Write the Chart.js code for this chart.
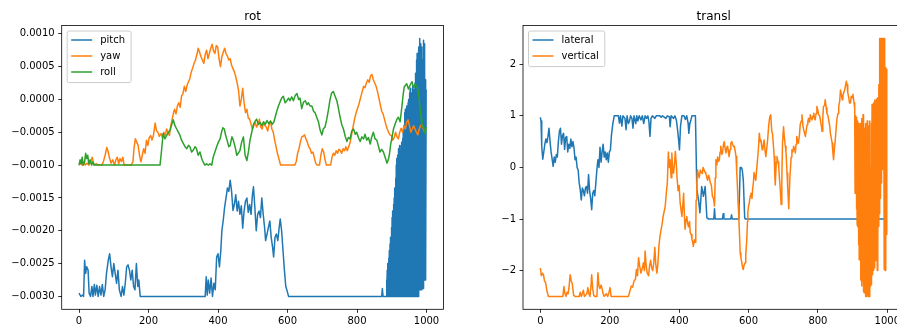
<!DOCTYPE html>
<html>
<head>
<meta charset="utf-8">
<script src="https://cdn.jsdelivr.net/npm/chart.js@4.4.1/dist/chart.umd.min.js"></script>
<style>
  html, body { margin: 0; padding: 0; background: #fff; overflow: hidden; width: 897px; height: 333px; }
  canvas { position: absolute; top: 0; }
  #rot { left: 0; }
  #transl { left: 460px; }
</style>
</head>
<body>
<canvas id="rot" width="450" height="333"></canvas>
<canvas id="transl" width="450" height="333"></canvas>
<script>
// ---- axis ticks ----
const xTicks = [0, 200, 400, 600, 800, 1000];
const xTickLabels = ['0', '200', '400', '600', '800', '1000'];
const rotYTicks = [-0.003, -0.0025, -0.002, -0.0015, -0.001, -0.0005, 0, 0.0005, 0.001];
const rotYTickLabels = ['\u22120.0030', '\u22120.0025', '\u22120.0020', '\u22120.0015', '\u22120.0010', '\u22120.0005', '0.0000', '0.0005', '0.0010'];
const translYTicks = [-2, -1, 0, 1, 2];
const translYTickLabels = ['\u22122', '\u22121', '0', '1', '2'];

// ---- rot: [step, value] ----
const pitch = [
  [0,-2.95e-3],[5,-3.0e-3],[10,-2.98e-3],[13,-3.0e-3],[16,-2.45e-3],[19,-2.65e-3],[22,-2.55e-3],[26,-2.6e-3],
  [29,-2.95e-3],[33,-3.0e-3],[37,-2.85e-3],[40,-3.0e-3],[44,-2.82e-3],[47,-2.98e-3],[51,-2.83e-3],[55,-3.0e-3],
  [59,-2.85e-3],[63,-2.98e-3],[67,-2.82e-3],[71,-3.0e-3],[75,-2.9e-3],[79,-2.65e-3],[84,-2.45e-3],[88,-2.35e-3],
  [92,-2.55e-3],[96,-2.7e-3],[100,-2.5e-3],[104,-2.65e-3],[108,-2.8e-3],[112,-2.6e-3],[116,-2.9e-3],[121,-3.0e-3],
  [125,-2.85e-3],[129,-2.98e-3],[133,-2.8e-3],[137,-2.55e-3],[141,-2.52e-3],[145,-2.6e-3],[149,-2.75e-3],[153,-2.6e-3],
  [157,-2.85e-3],[161,-2.9e-3],[165,-2.5e-3],[169,-2.85e-3],[172,-2.75e-3],[176,-3.0e-3],[363,-3.0e-3],[366,-2.7e-3],
  [369,-2.98e-3],[372,-2.75e-3],[376,-2.95e-3],[380,-2.72e-3],[384,-3.0e-3],[388,-2.8e-3],[392,-2.9e-3],[396,-2.4e-3],
  [400,-2.35e-3],[404,-2.55e-3],[408,-2.3e-3],[411,-2.0e-3],[415,-1.84e-3],[419,-1.64e-3],[423,-1.5e-3],[427,-1.35e-3],
  [431,-1.4e-3],[435,-1.23e-3],[439,-1.4e-3],[443,-1.69e-3],[447,-1.6e-3],[451,-1.45e-3],[455,-1.7e-3],[459,-1.55e-3],
  [463,-1.75e-3],[467,-1.62e-3],[471,-1.96e-3],[475,-1.7e-3],[479,-1.55e-3],[483,-1.5e-3],[487,-1.72e-3],[491,-1.6e-3],
  [495,-1.75e-3],[499,-1.45e-3],[502,-1.33e-3],[506,-1.65e-3],[510,-2.0e-3],[514,-1.75e-3],[518,-1.7e-3],[522,-1.8e-3],
  [526,-1.5e-3],[530,-1.75e-3],[534,-1.95e-3],[537,-2.15e-3],[541,-2.05e-3],[545,-1.95e-3],[549,-1.85e-3],[553,-2.1e-3],
  [557,-2.25e-3],[560,-2.4e-3],[564,-2.1e-3],[568,-2.05e-3],[572,-2.15e-3],[576,-1.95e-3],[579,-1.82e-3],[583,-2.0e-3],
  [587,-2.3e-3],[591,-2.6e-3],[595,-2.85e-3],[598,-2.9e-3],[603,-3.0e-3],[871,-3.0e-3],[873,-2.88e-3],[875,-3.0e-3],
  [884,-3.0e-3],[885,-2.75e-3],[886,-3.0e-3],[887,-2.6e-3],[888,-3.0e-3],[889,-2.5e-3],[890,-3.0e-3],[891,-2.42e-3],
  [892,-3.0e-3],[893,-2.3e-3],[894,-3.0e-3],[895,-2.2e-3],[896,-3.0e-3],[897,-2.1e-3],[898,-3.0e-3],[899,-1.95e-3],
  [900,-3.0e-3],[901,-1.8e-3],[902,-3.0e-3],[903,-1.7e-3],[904,-3.0e-3],[905,-1.6e-3],[906,-3.0e-3],[907,-1.5e-3],
  [908,-3.0e-3],[909,-1.35e-3],[910,-3.0e-3],[911,-1.2e-3],[912,-3.0e-3],[913,-1.0e-3],[914,-3.0e-3],[915,-0.9e-3],
  [916,-3.0e-3],[917,-0.85e-3],[918,-3.0e-3],[919,-0.75e-3],[920,-3.0e-3],[921,-0.85e-3],[922,-3.0e-3],[923,-0.7e-3],
  [924,-3.0e-3],[925,-0.8e-3],[926,-3.0e-3],[927,-0.7e-3],[928,-3.0e-3],[929,-0.65e-3],[930,-3.0e-3],[931,-0.6e-3],
  [932,-3.0e-3],[933,-0.5e-3],[934,-3.0e-3],[935,-0.4e-3],[936,-3.0e-3],[937,-0.2e-3],[938,-3.0e-3],[939,-0.15e-3],
  [940,-3.0e-3],[941,-0.3e-3],[942,-3.0e-3],[943,-0.1e-3],[944,-3.0e-3],[945,-0.2e-3],[946,-3.0e-3],[947,-0.05e-3],
  [948,-3.0e-3],[949,0.0],[950,-3.0e-3],[951,0.1e-3],[952,-3.0e-3],[953,0.17e-3],[954,-3.0e-3],[955,0.0],
  [956,-3.0e-3],[957,0.1e-3],[958,-3.0e-3],[959,0.05e-3],[960,-3.0e-3],[961,0.2e-3],[962,-3.0e-3],[963,0.15e-3],
  [964,-3.0e-3],[965,0.05e-3],[966,-3.0e-3],[967,0.25e-3],[968,-3.0e-3],[969,0.4e-3],[970,-3.0e-3],[971,0.6e-3],
  [972,-3.0e-3],[973,0.7e-3],[974,-3.0e-3],[975,0.6e-3],[976,-3.0e-3],[977,0.8e-3],[978,-3.0e-3],[979,0.75e-3],
  [980,-2.9e-3],[981,0.93e-3],[982,-2.9e-3],[983,0.85e-3],[984,-2.9e-3],[985,0.7e-3],[986,-2.9e-3],[987,0.8e-3],
  [988,-2.88e-3],[989,0.6e-3],[990,-2.88e-3],[991,0.9e-3],[992,-2.8e-3],[993,0.85e-3],[994,-2.75e-3],[995,0.6e-3],
  [996,-2.75e-3],[997,0.3e-3],[998,-2.7e-3],[999,0.15e-3]
];

const yaw = [
  [0,-1.0e-3],[5,-0.97e-3],[9,-1.0e-3],[14,-0.95e-3],[18,-1.0e-3],[23,-0.97e-3],[28,-1.0e-3],[33,-0.96e-3],
  [38,-0.88e-3],[42,-1.0e-3],[50,-0.98e-3],[55,-1.0e-3],[65,-1.0e-3],[70,-0.95e-3],[75,-0.85e-3],[80,-0.73e-3],
  [84,-0.8e-3],[88,-0.9e-3],[92,-0.97e-3],[97,-0.92e-3],[102,-1.0e-3],[106,-0.92e-3],[110,-0.88e-3],[114,-0.98e-3],
  [118,-0.9e-3],[122,-0.95e-3],[126,-0.88e-3],[130,-1.0e-3],[150,-1.0e-3],[155,-0.95e-3],[158,-0.75e-3],[162,-0.6e-3],
  [166,-0.65e-3],[170,-0.7e-3],[174,-0.85e-3],[178,-0.95e-3],[182,-0.85e-3],[186,-0.75e-3],[190,-0.82e-3],[194,-0.62e-3],
  [198,-0.7e-3],[202,-0.58e-3],[206,-0.55e-3],[210,-0.62e-3],[214,-0.55e-3],[219,-0.36e-3],[223,-0.48e-3],[227,-0.5e-3],
  [231,-0.56e-3],[236,-0.52e-3],[240,-0.58e-3],[244,-0.5e-3],[248,-0.55e-3],[252,-0.45e-3],[256,-0.5e-3],[260,-0.55e-3],
  [264,-0.4e-3],[268,-0.3e-3],[272,-0.2e-3],[275,-0.15e-3],[279,-0.22e-3],[283,-0.1e-3],[287,-0.05e-3],[291,-0.12e-3],
  [295,0.05e-3],[299,0.09e-3],[303,0.2e-3],[307,0.12e-3],[311,0.22e-3],[315,0.27e-3],[319,0.32e-3],[323,0.42e-3],
  [327,0.48e-3],[331,0.55e-3],[335,0.6e-3],[339,0.68e-3],[343,0.78e-3],[347,0.72e-3],[351,0.65e-3],[355,0.6e-3],
  [359,0.55e-3],[363,0.68e-3],[367,0.75e-3],[371,0.62e-3],[375,0.7e-3],[379,0.78e-3],[383,0.84e-3],[387,0.74e-3],
  [391,0.7e-3],[395,0.82e-3],[399,0.8e-3],[403,0.62e-3],[407,0.5e-3],[411,0.65e-3],[415,0.72e-3],[419,0.78e-3],
  [423,0.7e-3],[427,0.66e-3],[431,0.6e-3],[435,0.62e-3],[439,0.52e-3],[443,0.47e-3],[447,0.42e-3],[451,0.35e-3],
  [455,0.25e-3],[459,0.14e-3],[463,-0.1e-3],[467,0.0],[471,0.17e-3],[475,-0.05e-3],[479,-0.2e-3],[483,-0.15e-3],
  [487,-0.28e-3],[491,-0.3e-3],[495,-0.38e-3],[499,-0.45e-3],[503,-0.4e-3],[507,-0.35e-3],[511,-0.42e-3],[515,-0.38e-3],
  [519,-0.3e-3],[523,-0.42e-3],[527,-0.45e-3],[531,-0.35e-3],[535,-0.4e-3],[539,-0.42e-3],[543,-0.48e-3],[547,-0.38e-3],
  [551,-0.33e-3],[555,-0.45e-3],[559,-0.5e-3],[563,-0.62e-3],[567,-0.72e-3],[571,-0.82e-3],[575,-0.9e-3],[580,-1.0e-3],
  [621,-1.0e-3],[625,-0.95e-3],[629,-0.82e-3],[633,-0.75e-3],[637,-0.65e-3],[641,-0.57e-3],[645,-0.56e-3],[649,-0.54e-3],
  [653,-0.6e-3],[657,-0.65e-3],[661,-0.72e-3],[665,-0.75e-3],[669,-0.82e-3],[673,-0.8e-3],[677,-0.88e-3],[681,-0.97e-3],
  [685,-1.0e-3],[692,-1.0e-3],[696,-0.85e-3],[700,-0.75e-3],[704,-0.8e-3],[708,-0.92e-3],[712,-1.0e-3],[724,-1.0e-3],
  [728,-0.88e-3],[732,-0.82e-3],[736,-0.85e-3],[740,-0.78e-3],[744,-0.82e-3],[748,-0.76e-3],[752,-0.78e-3],[756,-0.82e-3],
  [760,-0.75e-3],[764,-0.78e-3],[768,-0.72e-3],[772,-0.78e-3],[776,-0.72e-3],[780,-0.66e-3],[785,-0.52e-3],[790,-0.38e-3],
  [795,-0.25e-3],[800,-0.16e-3],[805,-0.08e-3],[810,0.02e-3],[815,0.12e-3],[819,0.2e-3],[823,0.18e-3],[827,0.25e-3],
  [831,0.3e-3],[835,0.26e-3],[839,0.36e-3],[843,0.38e-3],[847,0.3e-3],[851,0.25e-3],[855,0.2e-3],[859,0.12e-3],
  [863,0.02e-3],[867,-0.08e-3],[871,-0.18e-3],[875,-0.22e-3],[879,-0.3e-3],[883,-0.38e-3],[887,-0.45e-3],[891,-0.5e-3],
  [895,-0.54e-3],[899,-0.55e-3],[903,-0.62e-3],[907,-0.58e-3],[911,-0.5e-3],[915,-0.57e-3],[919,-0.6e-3],[923,-0.5e-3],
  [927,-0.44e-3],[931,-0.5e-3],[935,-0.4e-3],[939,-0.45e-3],[943,-0.35e-3],[947,-0.31e-3],[951,-0.4e-3],[955,-0.5e-3],
  [959,-0.45e-3],[963,-0.4e-3],[967,-0.45e-3],[971,-0.5e-3],[975,-0.54e-3],[979,-0.45e-3],[983,-0.4e-3],[987,-0.38e-3],
  [991,-0.45e-3],[995,-0.5e-3],[999,-0.44e-3]
];

const roll = [
  [0,-1.0e-3],[3,-0.92e-3],[6,-0.98e-3],[9,-0.88e-3],[12,-1.0e-3],[16,-0.95e-3],[19,-0.82e-3],[22,-0.9e-3],
  [25,-0.85e-3],[28,-0.98e-3],[32,-0.92e-3],[36,-1.0e-3],[40,-0.95e-3],[44,-1.0e-3],[233,-1.0e-3],[237,-0.8e-3],
  [242,-0.52e-3],[247,-0.6e-3],[252,-0.55e-3],[257,-0.5e-3],[262,-0.47e-3],[267,-0.38e-3],[271,-0.31e-3],[276,-0.4e-3],
  [281,-0.45e-3],[286,-0.5e-3],[290,-0.54e-3],[295,-0.62e-3],[300,-0.67e-3],[305,-0.72e-3],[310,-0.75e-3],[315,-0.7e-3],
  [319,-0.72e-3],[324,-0.8e-3],[329,-0.77e-3],[334,-0.72e-3],[338,-0.75e-3],[343,-0.85e-3],[348,-0.8e-3],[353,-0.9e-3],
  [357,-0.95e-3],[362,-1.0e-3],[367,-0.98e-3],[372,-1.0e-3],[377,-0.98e-3],[382,-1.0e-3],[386,-0.88e-3],[391,-0.8e-3],
  [396,-0.72e-3],[401,-0.65e-3],[406,-0.6e-3],[410,-0.5e-3],[414,-0.43e-3],[418,-0.45e-3],[422,-0.55e-3],[426,-0.62e-3],
  [431,-0.72e-3],[435,-0.7e-3],[440,-0.57e-3],[444,-0.62e-3],[449,-0.72e-3],[454,-0.85e-3],[458,-0.82e-3],[463,-0.78e-3],
  [468,-0.65e-3],[473,-0.57e-3],[478,-0.85e-3],[483,-0.93e-3],[488,-0.78e-3],[492,-0.62e-3],[497,-0.5e-3],[502,-0.38e-3],
  [507,-0.33e-3],[511,-0.3e-3],[516,-0.38e-3],[521,-0.35e-3],[526,-0.4e-3],[531,-0.34e-3],[536,-0.38e-3],[541,-0.32e-3],
  [546,-0.37e-3],[551,-0.33e-3],[556,-0.38e-3],[561,-0.34e-3],[565,-0.26e-3],[569,-0.18e-3],[574,-0.1e-3],[579,-0.03e-3],
  [584,0.03e-3],[588,0.05e-3],[593,-0.05e-3],[598,-0.02e-3],[603,0.02e-3],[607,-0.02e-3],[612,0.04e-3],[617,-0.02e-3],
  [622,0.06e-3],[627,0.09e-3],[632,0.0],[636,0.02e-3],[641,-0.14e-3],[646,-0.04e-3],[651,-0.02e-3],[656,-0.08e-3],
  [660,-0.05e-3],[665,-0.1e-3],[670,-0.1e-3],[675,-0.18e-3],[679,-0.2e-3],[684,-0.27e-3],[689,-0.34e-3],[694,-0.47e-3],
  [699,-0.54e-3],[703,-0.45e-3],[708,-0.42e-3],[713,-0.3e-3],[718,-0.15e-3],[722,-0.01e-3],[727,0.1e-3],[732,0.12e-3],
  [737,0.05e-3],[742,-0.02e-3],[746,-0.12e-3],[751,-0.26e-3],[756,-0.38e-3],[761,-0.45e-3],[766,-0.56e-3],[771,-0.64e-3],
  [775,-0.58e-3],[780,-0.6e-3],[785,-0.48e-3],[790,-0.45e-3],[795,-0.53e-3],[799,-0.5e-3],[804,-0.58e-3],[809,-0.64e-3],
  [814,-0.57e-3],[819,-0.6e-3],[823,-0.53e-3],[828,-0.62e-3],[833,-0.58e-3],[838,-0.68e-3],[842,-0.58e-3],[847,-0.5e-3],
  [852,-0.6e-3],[857,-0.62e-3],[861,-0.7e-3],[866,-0.8e-3],[871,-0.76e-3],[876,-0.8e-3],[881,-0.88e-3],[886,-0.97e-3],
  [890,-0.92e-3],[893,-0.85e-3],[897,-0.68e-3],[900,-0.6e-3],[905,-0.45e-3],[910,-0.37e-3],[915,-0.3e-3],[919,-0.27e-3],
  [924,-0.34e-3],[929,-0.12e-3],[933,0.08e-3],[936,0.19e-3],[940,0.22e-3],[943,0.24e-3],[948,0.16e-3],[953,0.22e-3],
  [958,0.27e-3],[963,0.18e-3],[967,0.23e-3],[972,0.2e-3],[977,0.12e-3],[980,-0.05e-3],[982,-0.16e-3],[985,-0.3e-3],
  [987,-0.42e-3],[991,-0.4e-3],[994,-0.48e-3],[996,-0.52e-3],[999,-0.42e-3]
];

// ---- transl: [step, value] ----
const lateral = [
  [0,0.97],[2,0.9],[4,0.41],[7,0.16],[10,0.3],[13,0.45],[16,0.55],[19,0.48],[22,0.6],[25,0.76],[28,0.5],[31,0.3],
  [34,0.16],[37,0.02],[40,0.2],[43,0.1],[46,0.25],[49,0.2],[52,0.5],[55,0.7],[58,0.76],[61,0.45],[64,0.62],[67,0.66],
  [70,0.35],[73,0.58],[76,0.6],[79,0.3],[82,0.45],[85,0.37],[88,0.55],[91,0.4],[94,0.5],[97,0.38],[100,0.15],[103,0.2],
  [106,0.0],[109,-0.05],[112,-0.3],[115,-0.43],[118,-0.63],[121,-0.4],[124,-0.45],[127,-0.55],[130,-0.4],[133,-0.37],
  [136,-0.5],[139,-0.14],[142,-0.45],[145,-0.6],[148,-0.82],[151,-0.5],[154,-0.45],[157,-0.55],[160,-0.3],[163,-0.04],
  [166,0.15],[169,0.0],[172,0.39],[175,0.1],[178,0.3],[181,0.45],[184,0.2],[187,0.3],[190,0.15],[193,0.28],[196,0.1],
  [199,0.3],[202,0.34],[205,0.63],[209,0.85],[213,1.0],[225,1.0],[228,0.86],[231,1.0],[235,0.8],[238,1.0],[244,0.95],
  [247,0.73],[250,1.0],[254,0.85],[257,0.9],[260,1.0],[264,0.95],[267,0.76],[270,1.0],[275,0.85],[278,1.0],[281,0.9],
  [285,1.0],[290,0.92],[294,1.0],[298,0.85],[302,1.0],[306,0.95],[310,1.0],[313,0.88],[316,0.6],[319,0.95],[323,1.0],
  [330,0.95],[334,1.0],[345,1.0],[348,0.97],[352,1.0],[362,0.95],[366,1.0],[372,0.98],[374,0.79],[377,1.0],[384,0.95],
  [388,1.0],[392,0.92],[396,0.7],[399,0.5],[401,0.34],[404,0.8],[408,1.0],[414,1.0],[418,0.93],[422,1.0],[426,0.85],
  [428,0.66],[431,0.85],[434,0.92],[437,1.0],[447,1.0],[451,-0.43],[456,-0.63],[460,-0.88],[465,-0.37],[470,-0.56],
  [475,-0.37],[480,-0.98],[485,-1.0],[500,-1.0],[502,-0.8],[504,-1.0],[525,-1.0],[527,-0.9],[529,-1.0],[549,-1.0],
  [551,-0.92],[553,-1.0],[572,-1.0],[576,0.0],[579,0.0],[582,-0.05],[585,-0.25],[589,-0.98],[591,-1.0],[999,-1.0]
];

const vertical = [
  [0,-1.95],[3,-2.1],[6,-2.05],[9,-2.08],[12,-2.2],[15,-2.23],[19,-2.39],[23,-2.5],[65,-2.5],[68,-2.31],[71,-2.45],
  [74,-2.5],[77,-2.42],[80,-2.45],[83,-2.3],[86,-2.08],[89,-2.2],[92,-2.25],[96,-2.48],[100,-2.5],[112,-2.5],[115,-2.42],
  [118,-2.5],[121,-2.45],[124,-2.38],[127,-2.5],[134,-2.45],[137,-2.33],[140,-2.45],[143,-2.5],[146,-2.3],[148,-2.08],
  [151,-2.35],[154,-2.48],[157,-2.5],[163,-2.5],[166,-2.04],[169,-2.3],[172,-2.35],[175,-2.28],[178,-2.35],[181,-2.45],
  [184,-2.5],[190,-2.45],[194,-2.5],[198,-2.42],[201,-2.33],[204,-2.5],[254,-2.5],[258,-2.4],[262,-2.3],[266,-2.32],
  [270,-2.2],[274,-2.17],[277,-1.98],[280,-2.1],[283,-1.75],[286,-1.9],[290,-2.05],[294,-1.95],[297,-1.85],[300,-2.0],
  [302,-1.62],[305,-1.9],[308,-2.05],[312,-2.1],[315,-1.9],[318,-1.8],[321,-1.95],[324,-2.0],[327,-1.85],[330,-1.55],
  [333,-1.9],[336,-2.05],[339,-1.85],[342,-1.5],[345,-1.33],[348,-1.2],[351,-1.1],[354,-0.95],[357,-0.85],[360,-0.75],
  [363,-0.5],[366,-0.3],[369,0.3],[372,0.0],[374,0.15],[377,-0.2],[379,0.28],[382,-0.1],[384,-0.11],[387,0.1],[389,0.31],
  [392,0.05],[394,-0.2],[397,-0.45],[400,-0.35],[403,-0.69],[406,-0.85],[408,-0.95],[411,-0.7],[413,-0.5],[415,-0.9],
  [417,-1.2],[420,-1.0],[422,-0.95],[425,-1.1],[427,-1.15],[430,-1.05],[432,-1.27],[435,-1.3],[437,-1.4],[439,-1.45],
  [441,-1.53],[444,-1.4],[446,-1.45],[448,-1.2],[449,-0.63],[451,-0.3],[453,-0.05],[456,-0.15],[458,-0.2],[461,-0.05],
  [464,-0.1],[467,-0.12],[469,0.0],[472,-0.05],[475,-0.1],[477,-0.12],[480,-0.2],[482,-0.25],[485,-0.15],[487,-0.2],
  [490,-0.3],[493,-0.35],[496,-0.56],[499,-0.6],[502,-0.75],[504,-0.2],[506,0.15],[509,0.05],[511,0.2],[514,0.12],
  [516,0.15],[518,0.3],[520,0.41],[523,0.25],[525,0.28],[528,0.45],[530,0.5],[533,0.35],[535,0.28],[538,0.4],[540,0.41],
  [542,0.3],[544,0.21],[547,0.35],[549,0.47],[552,0.5],[554,0.45],[557,0.4],[559,0.41],[562,0.3],[564,0.21],[566,-0.1],
  [568,-0.37],[570,-0.7],[572,-0.95],[574,-1.3],[576,-1.66],[578,-1.75],[581,-1.85],[583,-1.95],[585,-1.98],[587,-1.9],
  [590,-1.85],[592,-1.7],[595,-1.4],[597,-1.05],[598,-0.88],[600,-0.75],[602,-0.7],[605,-0.55],[607,-0.5],[610,-0.6],
  [612,-0.4],[614,-0.3],[616,-0.1],[619,-0.2],[621,-0.25],[624,0.0],[626,0.15],[629,0.4],[631,0.66],[634,0.5],[636,0.53],
  [639,0.35],[641,0.34],[643,0.45],[645,0.53],[648,0.3],[650,0.21],[653,0.4],[655,0.53],[658,0.8],[660,0.92],[662,1.0],
  [664,1.02],[667,0.7],[669,0.66],[672,0.4],[674,0.21],[676,-0.2],[677,-0.34],[680,0.1],[682,0.21],[685,0.1],[687,0.02],
  [689,-0.2],[691,-0.37],[694,-0.72],[696,-0.2],[698,0.47],[701,0.79],[703,0.6],[706,0.41],[708,0.3],[711,-0.11],
  [713,-0.4],[716,-0.8],[718,-0.4],[720,-0.11],[723,0.2],[725,0.34],[728,0.3],[730,0.41],[733,0.35],[735,0.28],[737,0.45],
  [739,0.6],[742,0.5],[744,0.47],[747,0.65],[749,0.83],[752,0.9],[754,1.02],[757,0.8],[759,0.73],[762,0.65],[764,0.6],
  [767,0.75],[769,0.83],[771,0.9],[773,0.95],[776,0.88],[778,1.02],[781,0.95],[783,0.92],[786,1.0],[788,1.05],[790,0.95],
  [792,0.92],[795,1.05],[797,1.18],[800,1.1],[802,1.02],[805,1.0],[807,0.92],[810,0.8],[812,0.7],[814,0.95],[816,1.18],
  [819,1.2],[821,1.31],[824,1.15],[826,1.05],[829,1.0],[831,0.92],[834,0.8],[836,0.66],[839,0.55],[841,0.47],[843,0.3],
  [845,0.15],[848,0.4],[850,0.53],[853,0.8],[855,0.95],[858,1.05],[860,1.18],[863,1.3],[865,1.5],[868,1.4],[870,1.31],
  [872,1.38],[874,1.44],[877,1.5],[879,1.57],[882,1.67],[884,1.6],[886,1.45],[889,1.35],[891,1.25],[894,1.25],[896,1.38],
  [899,1.35],[901,1.42],[904,1.25],[906,1.16],
  [907,-0.5],[908,1.0],[909,-0.2],[910,0.97],[911,-0.8],[912,0.6],[913,-1.1],[914,0.9],[915,-1.14],[916,0.4],
  [917,-1.5],[918,0.85],[919,-1.79],[920,0.7],[921,-1.6],[922,0.85],[923,-2.18],[924,0.3],[925,-2.0],[926,0.95],
  [927,-2.3],[928,0.6],[929,-2.2],[930,1.02],[931,-2.4],[932,0.2],[933,-2.43],[934,0.76],[935,-2.1],[936,0.5],
  [937,-2.5],[938,0.85],[939,-2.3],[940,0.3],[941,-2.5],[942,0.9],[943,-2.45],[944,0.6],[945,-2.5],[946,0.8],
  [947,-2.2],[948,0.4],[949,-2.5],[950,0.9],[951,-2.3],[952,0.0],[953,-2.27],[954,0.85],[955,-1.9],[956,1.22],
  [957,-2.08],[958,0.7],[959,-1.75],[960,1.25],[961,-2.0],[962,0.5],[963,-1.95],[964,1.3],[965,-1.5],[966,0.9],
  [967,-1.81],[968,1.32],[969,-1.4],[970,0.6],[971,-2.0],[972,1.35],[973,-1.6],[974,1.0],[975,-1.14],[976,1.6],
  [977,-0.9],[978,2.5],[979,-0.6],[980,2.5],[981,0.2],[982,2.5],[983,-0.3],[984,2.5],[985,-0.04],[986,2.5],
  [987,0.8],[988,2.5],[989,0.3],[990,2.5],[991,-1.98],[992,2.5],[993,0.5],[994,-2.0],[995,1.5],[996,1.93],
  [997,0.2],[998,1.9],[999,-1.3]
];

const C_BLUE = '#1f77b4', C_ORANGE = '#ff7f0e', C_GREEN = '#2ca02c';
const FONT = "'DejaVu Sans', 'Liberation Sans', sans-serif";

function lineSet(label, pts, color, order) {
  return {
    label, order,
    data: pts.map(([x, y]) => ({ x, y })),
    borderColor: color, backgroundColor: color,
    borderWidth: 1.5, pointRadius: 0, pointHoverRadius: 0,
    fill: false, tension: 0, borderJoinStyle: 'round', borderCapStyle: 'butt'
  };
}

// frame, title and legend in the matplotlib look
const decor = {
  id: 'decor',
  afterDraw(chart, args, opts) {
    const { ctx, chartArea: a } = chart;
    ctx.save();
    ctx.strokeStyle = '#000';
    ctx.lineWidth = 0.8;
    ctx.strokeRect(a.left, a.top, a.right - a.left, a.bottom - a.top);

    ctx.fillStyle = '#000';
    ctx.font = '12px ' + FONT;
    ctx.textAlign = 'center';
    ctx.textBaseline = 'alphabetic';
    ctx.fillText(opts.title, (a.left + a.right) / 2, a.top - 6);

    ctx.font = '10px ' + FONT;
    const sets = chart.data.datasets;
    const tw = Math.max(...sets.map(d => ctx.measureText(d.label).width));
    const bx = a.left + 5.5, by = a.top + 5.5;
    const bw = 33 + tw + 6, bh = 9 + (sets.length - 1) * 16 + 10.6;
    ctx.beginPath();
    ctx.roundRect(bx, by, bw, bh, 2);
    ctx.fillStyle = 'rgba(255,255,255,0.8)';
    ctx.fill();
    ctx.strokeStyle = '#cccccc';
    ctx.lineWidth = 1;
    ctx.stroke();
    sets.forEach((d, i) => {
      const cy = by + 9 + i * 16;
      ctx.beginPath();
      ctx.moveTo(bx + 4, cy);
      ctx.lineTo(bx + 25, cy);
      ctx.strokeStyle = d.borderColor;
      ctx.lineWidth = 1.5;
      ctx.stroke();
      ctx.fillStyle = '#000';
      ctx.textAlign = 'left';
      ctx.textBaseline = 'middle';
      ctx.fillText(d.label, bx + 33, cy);
    });
    ctx.restore();
  }
};

function makeChart(id, title, datasets, yMin, yMax, yTicks, yLabels, yWidth, padRight) {
  const tickFont = { family: FONT, size: 10 };
  return new Chart(document.getElementById(id), {
    type: 'line',
    data: { datasets },
    plugins: [decor],
    options: {
      responsive: false, animation: false, devicePixelRatio: 1,
      events: [],
      layout: { padding: { left: 0, top: 25.5, right: padRight, bottom: 0 } },
      plugins: { legend: { display: false }, title: { display: false }, tooltip: { enabled: false }, decor: { title } },
      scales: {
        x: {
          type: 'linear', min: -49.95, max: 1048.95,
          afterBuildTicks: s => { s.ticks = xTicks.map(v => ({ value: v })); },
          afterFit: s => { s.height = 333 - 309.3; },
          ticks: {
            autoSkip: false, maxRotation: 0, minRotation: 0, padding: 2.5, color: '#000', font: tickFont,
            callback: v => xTickLabels[xTicks.indexOf(v)]
          },
          grid: { display: true, drawOnChartArea: false, drawTicks: true, tickLength: 3.5, color: '#000', lineWidth: 0.8 },
          border: { display: false }
        },
        y: {
          type: 'linear', min: yMin, max: yMax,
          afterBuildTicks: s => { s.ticks = yTicks.map(v => ({ value: v })); },
          afterFit: s => { s.width = yWidth; },
          ticks: {
            autoSkip: false, padding: 3.5, color: '#000', font: tickFont,
            callback: v => yLabels[yTicks.indexOf(v)]
          },
          grid: { display: true, drawOnChartArea: false, drawTicks: true, tickLength: 3.5, color: '#000', lineWidth: 0.8 },
          border: { display: false }
        }
      }
    }
  });
}

makeChart('rot', 'rot', [
  lineSet('pitch', pitch, C_BLUE, 2),
  lineSet('yaw', yaw, C_ORANGE, 1),
  lineSet('roll', roll, C_GREEN, 0)
], -0.0031965, 0.0011265, rotYTicks, rotYTickLabels, 61.7, 450 - 443.5);

makeChart('transl', 'transl', [
  lineSet('lateral', lateral, C_BLUE, 1),
  lineSet('vertical', vertical, C_ORANGE, 0)
], -2.75, 2.75, translYTicks, translYTickLabels, 63, 450 - (904.3 - 460));
</script>
</body>
</html>
